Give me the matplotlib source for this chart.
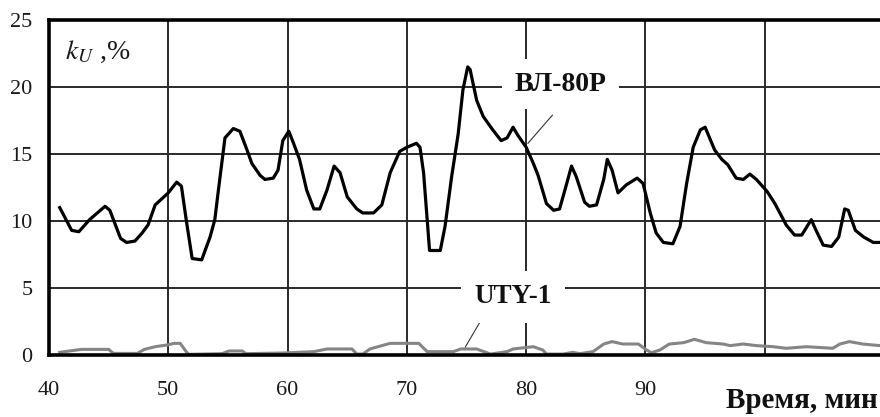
import matplotlib
matplotlib.use("Agg")
import matplotlib.pyplot as plt

# ---- data ----
vl_t = [40.9, 41.9, 42.5, 43.4, 44.7, 45.1, 46.0, 46.5, 47.2, 47.8, 48.3, 48.9,
        50.0, 50.7, 51.1, 51.5, 52.0, 52.8, 53.5, 53.9, 54.2, 54.75, 55.45, 56.0,
        56.6, 57.0, 57.7, 58.1, 58.8, 59.2, 59.6, 60.1, 60.5, 61.0, 61.6, 62.2,
        62.7, 63.3, 63.9, 64.4, 65.0, 65.8, 66.3, 67.2, 67.9, 68.6, 69.4, 70.0,
        70.8, 71.1, 71.4, 71.9, 72.8, 73.2, 73.75, 74.3, 74.7, 75.1, 75.3, 75.85,
        76.4, 77.2, 77.9, 78.4, 78.9, 79.3, 80.0, 80.6, 81.0, 81.7, 82.3, 82.8,
        83.4, 83.8, 84.2, 84.9, 85.3, 85.9, 86.5, 86.8, 87.2, 87.7, 88.4, 89.3,
        89.8, 90.4, 90.9, 91.5, 92.3, 92.9, 93.45, 94.0, 94.6, 95.0, 95.8, 96.4,
        96.9, 97.6, 98.2, 98.75, 99.3, 100.2, 100.85, 101.8, 102.5, 103.1, 103.9,
        104.3, 104.9, 105.6, 106.2, 106.7, 107.0, 107.6, 108.3, 109.1, 109.65]
vl_k = [11.0, 9.3, 9.2, 10.1, 11.1, 10.8, 8.7, 8.4, 8.5, 9.1, 9.7, 11.2,
        12.1, 12.9, 12.6, 10.1, 7.2, 7.1, 8.8, 10.1, 12.3, 16.2, 16.9, 16.7,
        15.3, 14.3, 13.4, 13.1, 13.2, 13.8, 16.0, 16.7, 15.8, 14.6, 12.3, 10.9,
        10.9, 12.3, 14.1, 13.6, 11.8, 10.9, 10.6, 10.6, 11.2, 13.6, 15.2, 15.5,
        15.8, 15.5, 13.6, 7.8, 7.8, 9.6, 13.3, 16.5, 19.8, 21.5, 21.3, 19.0,
        17.8, 16.8, 16.0, 16.2, 17.0, 16.4, 15.5, 14.3, 13.4, 11.3, 10.8, 10.9,
        12.8, 14.1, 13.3, 11.4, 11.1, 11.2, 13.1, 14.6, 13.8, 12.1, 12.7, 13.2,
        12.8, 10.6, 9.1, 8.4, 8.3, 9.6, 12.8, 15.5, 16.8, 17.0, 15.3, 14.6,
        14.2, 13.2, 13.1, 13.5, 13.1, 12.2, 11.3, 9.7, 8.95, 8.95, 10.1,
        9.3, 8.2, 8.1, 8.8, 10.9, 10.8, 9.3, 8.8, 8.4, 8.4]

uty_t = [40.9, 42.7, 45.0, 45.4, 47.4, 48.0, 48.9, 49.9, 50.5, 51.0, 51.5, 51.7,
         54.5, 55.1, 56.2, 56.5, 59.6, 62.2, 63.3, 65.4, 65.8, 66.3, 66.9, 68.6,
         71.0, 71.7, 73.9, 74.5, 75.85, 77.0, 78.4, 78.9, 80.6, 81.4, 81.7, 83.1,
         83.9, 84.5, 85.6, 86.5, 87.2, 88.1, 89.4, 90.1, 90.5, 91.2, 92.0, 93.2,
         94.1, 95.1, 96.5, 97.1, 98.2, 99.3, 100.7, 101.8, 103.5, 105.7, 106.3,
         107.1, 108.2, 109.65]
uty_k = [0.2, 0.42, 0.42, 0.12, 0.12, 0.42, 0.62, 0.75, 0.87, 0.87, 0.25, 0.05,
         0.1, 0.3, 0.3, 0.1, 0.15, 0.25, 0.45, 0.45, 0.07, 0.07, 0.45, 0.87,
         0.87, 0.25, 0.25, 0.45, 0.45, 0.07, 0.25, 0.45, 0.62, 0.37, 0.07, 0.07,
         0.2, 0.1, 0.25, 0.82, 1.0, 0.82, 0.82, 0.37, 0.17, 0.37, 0.82, 0.92,
         1.17, 0.92, 0.82, 0.7, 0.82, 0.7, 0.62, 0.5, 0.62, 0.5, 0.82,
         1.0, 0.82, 0.7]

x_ticks = [40, 50, 60, 70, 80, 90, 100]
x_ticklabels = ["40", "50", "60", "70", "80", "90", ""]
y_ticks = [0, 5, 10, 15, 20, 25]
y_ticklabels = ["0", "5", "10", "15", "20", "25"]

series_names = ["ВЛ-80Р", "UTY-1"]
x_label = "Время, мин"

# ---- figure ----
plt.rcParams['font.family'] = ['Liberation Serif', 'DejaVu Serif']
plt.rcParams['mathtext.fontset'] = 'stix'

W, H = 880, 417
fig = plt.figure(figsize=(W / 100, H / 100), dpi=100)
ax = fig.add_axes([49 / W, 1 - 355 / H, (W - 49) / W, (355 - 20) / H])

ax.set_xlim(40, 109.66)
ax.set_ylim(0, 25)

ax.set_xticks(x_ticks)
ax.set_xticklabels(x_ticklabels)
ax.set_yticks(y_ticks)
ax.set_yticklabels(y_ticklabels)
ax.tick_params(axis='both', length=0, labelsize=16, labelcolor='#1a1a1a')
ax.tick_params(axis='x', pad=19)
ax.tick_params(axis='y', pad=12)

ax.grid(True, color='#2a2a2a', linewidth=1.4)
ax.set_axisbelow(True)

for s in ['left', 'bottom', 'top']:
    ax.spines[s].set_linewidth(2.6)
    ax.spines[s].set_color('black')
    ax.spines[s].set_zorder(5)
ax.spines['right'].set_visible(False)

ax.plot(uty_t, uty_k, color='#858585', linewidth=2.2, zorder=3)
ax.plot(vl_t, vl_k, color='black', linewidth=2.3, zorder=3)

# annotations
ax.plot([82.2, 80.15], [17.9, 15.8], color='#333333', linewidth=0.8, zorder=4)
ax.plot([76.55, 74.9], [3.1, 0.6], color='#333333', linewidth=0.8, zorder=4)

ax.text(82.9, 20.2, series_names[0], fontsize=20, fontweight='bold',
        ha='center', va='center', color='#111111', zorder=4,
        bbox=dict(boxstyle='square,pad=0.45', fc='white', ec='none'))
ax.text(78.9, 4.35, series_names[1], fontsize=19.5, fontweight='bold',
        ha='center', va='center', color='#111111', zorder=4,
        bbox=dict(boxstyle='square,pad=0.5', fc='white', ec='none'))

ax.text(65 / W, 1 - 52 / H, r'$k_U$ ,%', transform=fig.transFigure,
        fontsize=20, ha='left', va='center', color='#1a1a1a', zorder=6)

fig.text(0.997, (H - 408) / H, x_label, fontsize=21, fontweight='bold',
         ha='right', va='baseline', color='#111111')

fig.savefig('out.png', dpi=100)
